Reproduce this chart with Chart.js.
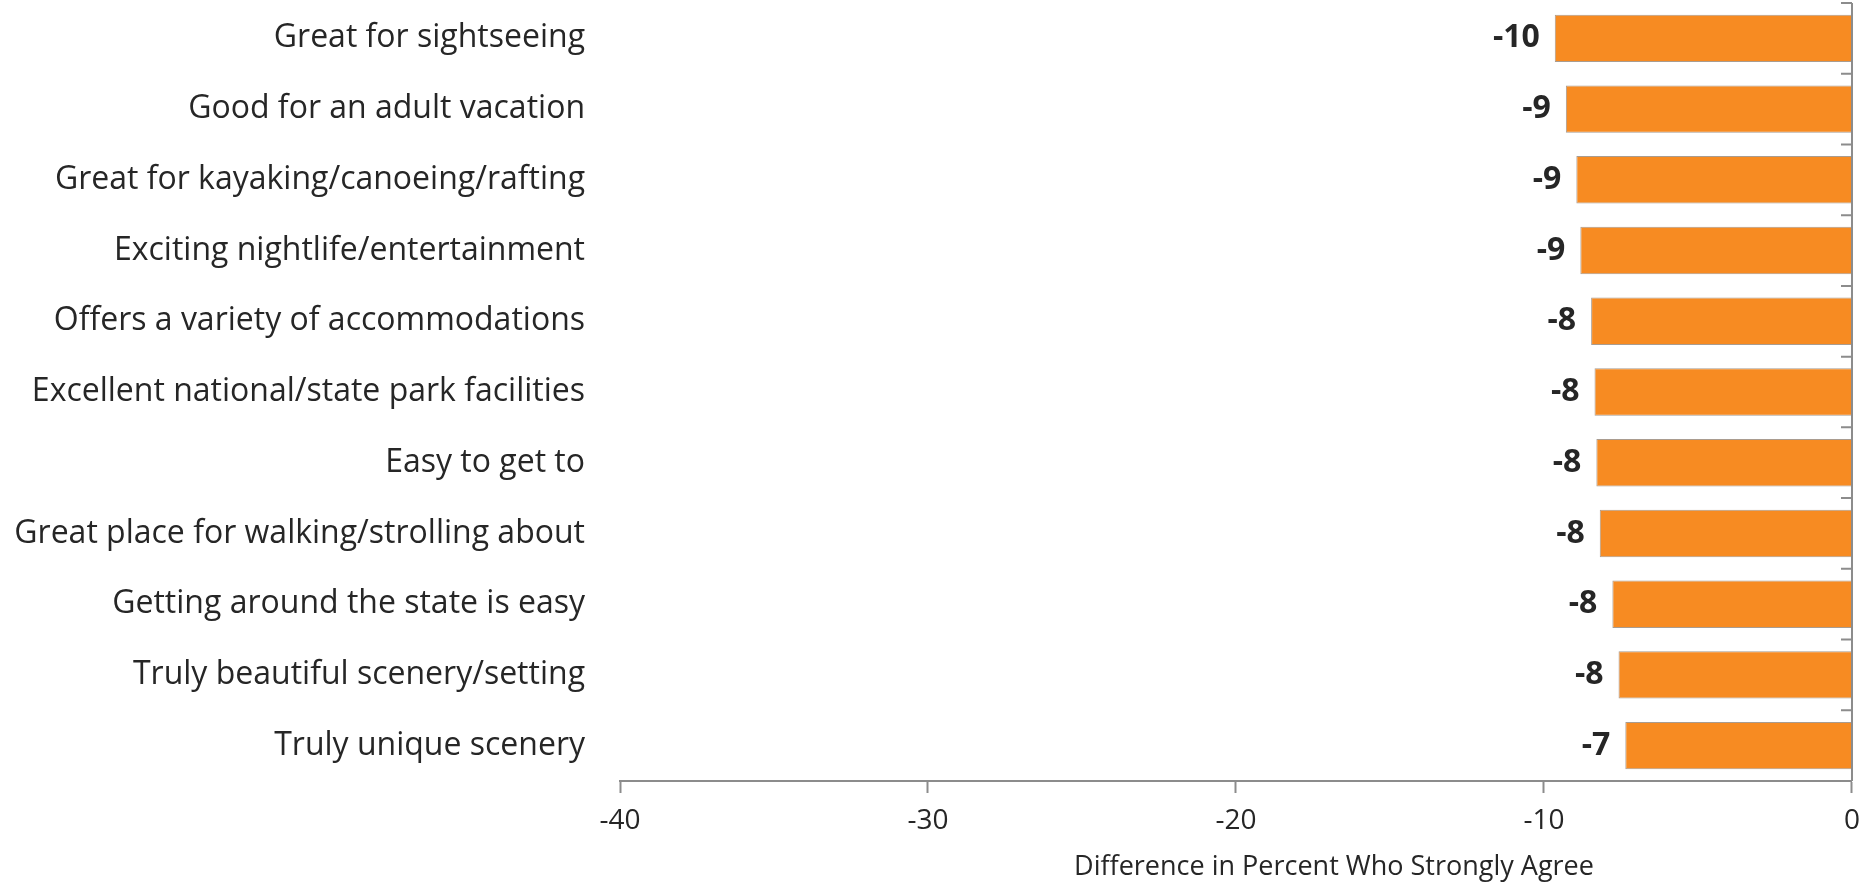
<!DOCTYPE html>
<html>
<head>
<meta charset="utf-8">
<script src="https://cdn.jsdelivr.net/npm/chart.js@4"></script>
<style>
  html, body { margin: 0; padding: 0; background: #fff; }
  #wrap { width: 1871px; height: 887px; position: relative; }
</style>
</head>
<body>
<div id="wrap"><canvas id="chart"></canvas></div>
<script>
// data
const categories = [
  "Great for sightseeing",
  "Good for an adult vacation",
  "Great for kayaking/canoeing/rafting",
  "Exciting nightlife/entertainment",
  "Offers a variety of accommodations",
  "Excellent national/state park facilities",
  "Easy to get to",
  "Great place for walking/strolling about",
  "Getting around the state is easy",
  "Truly beautiful scenery/setting",
  "Truly unique scenery",
];
const diffValues = [-9.65, -9.29, -8.95, -8.82, -8.47, -8.36, -8.3, -8.19, -7.78, -7.58, -7.36];
const xTicks = [-40, -30, -20, -10, 0];
const axisTitle = "Difference in Percent Who Strongly Agree";

const FONT = "'Open Sans'";
const TEXT = "#262626";
const AXIS = "#8c8c8c";

// value labels at the end of each bar
const barLabels = {
  id: "barLabels",
  afterDatasetsDraw(chart) {
    const ctx = chart.ctx;
    const meta = chart.getDatasetMeta(0);
    ctx.save();
    ctx.font = "bold 32px " + FONT;
    ctx.fillStyle = TEXT;
    ctx.textAlign = "right";
    ctx.textBaseline = "middle";
    meta.data.forEach((bar, i) => {
      ctx.fillText(String(Math.round(diffValues[i])), bar.x - 15, bar.y);
    });
    ctx.restore();
  },
};

// vertical axis line sits at 0, with small ticks between the categories
const zeroAxis = {
  id: "zeroAxis",
  afterDatasetsDraw(chart) {
    const { x, y } = chart.scales;
    const ctx = chart.ctx;
    const x0 = x.getPixelForValue(0);
    const half = (y.getPixelForValue(1) - y.getPixelForValue(0)) / 2;
    ctx.save();
    ctx.strokeStyle = AXIS;
    ctx.lineWidth = 2;
    ctx.beginPath();
    ctx.moveTo(x0, y.top);
    ctx.lineTo(x0, y.bottom);
    for (let i = 0; i <= categories.length; i++) {
      const yy = y.getPixelForValue(i) - half;
      ctx.moveTo(x0, yy);
      ctx.lineTo(x0 - 11, yy);
    }
    ctx.stroke();
    ctx.restore();
  },
};

// axis title sits a bit right of the axis middle, like the original
const xTitle = {
  id: "xTitle",
  afterDraw(chart) {
    const x = chart.scales.x;
    const ctx = chart.ctx;
    ctx.save();
    ctx.font = "27px " + FONT;
    ctx.fillStyle = TEXT;
    ctx.textAlign = "center";
    ctx.textBaseline = "middle";
    ctx.fillText(axisTitle, (x.left + x.right) / 2 + 98, 867);
    ctx.restore();
  },
};

new Chart(document.getElementById("chart"), {
  type: "bar",
  data: {
    labels: categories,
    datasets: [
      {
        data: diffValues,
        backgroundColor: "#F78B22",
        borderColor: "#A99C90",
        borderWidth: 1,
        barPercentage: 0.67,
        categoryPercentage: 1,
      },
    ],
  },
  options: {
    indexAxis: "y",
    responsive: true,
    maintainAspectRatio: false,
    animation: false,
    layout: { padding: { top: 3, right: 15, left: 0, bottom: 0 } },
    plugins: {
      legend: { display: false },
      tooltip: { enabled: false },
    },
    scales: {
      x: {
        min: -40,
        max: 0,
        afterBuildTicks: (s) => { s.ticks = xTicks.map((v) => ({ value: v })); },
        afterFit: (s) => { s.height = 106; },
        border: { display: true, color: AXIS, width: 2 },
        grid: {
          drawOnChartArea: false,
          tickLength: 12,
          tickColor: AXIS,
          tickWidth: 2,
        },
        ticks: {
          padding: 11,
          color: TEXT,
          font: { family: FONT, size: 28 },
        },
      },
      y: {
        afterFit: (s) => {
          s.width = 620;
          s.paddingTop = 0;
          s.paddingBottom = 0;
        },
        border: { display: false },
        grid: { display: false, drawTicks: false },
        ticks: {
          padding: 35,
          color: TEXT,
          font: { family: FONT, size: 32 },
        },
      },
    },
  },
  plugins: [barLabels, zeroAxis, xTitle],
});
</script>
</body>
</html>
